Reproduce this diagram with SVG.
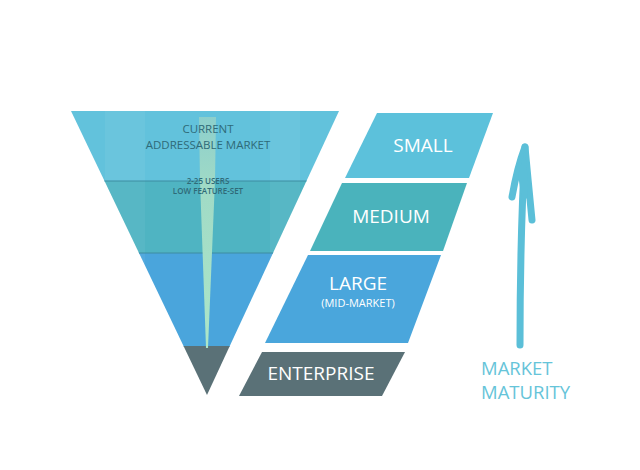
<svg xmlns="http://www.w3.org/2000/svg" width="640" height="470" viewBox="0 0 640 470">
  <defs>
    <clipPath id="funnelClip">
      <polygon points="71,111 339,111 207,395"/>
    </clipPath>
    <linearGradient id="beamGrad" x1="0" y1="0" x2="0" y2="1">
      <stop offset="0" stop-color="#8ccfcc"/>
      <stop offset="0.3" stop-color="#a0dac6"/>
      <stop offset="1" stop-color="#ace6c8"/>
    </linearGradient>
    <style>
      .seg { font-family: "Open Sans", "Noto Sans", "DejaVu Sans", sans-serif; fill: #ffffff; text-anchor: middle; }
      .big { font-size: 19px; }
      .sub { font-size: 11px; }
      .inner { font-family: "Open Sans", "Noto Sans", "DejaVu Sans", sans-serif; fill: #2f6a78; text-anchor: middle; }
      .band-line { stroke: #3f8fa3; stroke-width: 1.5; opacity: 0.7; }
      .maturity { font-family: "Open Sans", "Noto Sans", "DejaVu Sans", sans-serif; font-size: 18.5px; fill: #66c4d9; }
      .arrow { fill: none; stroke: #5bbfd8; stroke-width: 7; stroke-linecap: round; stroke-linejoin: round; }
    </style>
  </defs>
  <rect width="640" height="470" fill="#ffffff"/>

  <g id="funnel">
    <g clip-path="url(#funnelClip)">
      <rect x="60" y="105" width="290" height="77" fill="#62c2dc"/>
      <rect x="60" y="181" width="290" height="73" fill="#4fb4c2"/>
      <rect x="60" y="253" width="290" height="94" fill="#4aa5dc"/>
      <rect x="60" y="346" width="290" height="55" fill="#5a7177"/>
      <rect x="105" y="105" width="40" height="242" fill="#ffffff" opacity="0.05"/>
      <rect x="270" y="105" width="30" height="242" fill="#ffffff" opacity="0.05"/>
      <line class="band-line" x1="60" y1="181" x2="350" y2="181"/>
      <line class="band-line" x1="60" y1="253" x2="350" y2="253"/>
      <polygon points="199,117 216,117 215,180 208,348 206,348 200,180" fill="url(#beamGrad)"/>
    </g>
    <text class="inner" x="208" y="133" font-size="11.5">CURRENT</text>
    <text class="inner" x="208" y="149" font-size="11.5">ADDRESSABLE MARKET</text>
    <text class="inner" x="208" y="184" font-size="8" font-weight="600">2-25 USERS</text>
    <text class="inner" x="208" y="194" font-size="8" font-weight="600">LOW FEATURE-SET</text>
  </g>

  <g id="small">
    <polygon points="377,113 493,113 469,178 345,178" fill="#5cc1db"/>
    <text class="seg big" x="423" y="152">SMALL</text>
  </g>

  <g id="medium">
    <polygon points="342,183 467,183 443,251 310,251" fill="#4ab3bc"/>
    <text class="seg big" x="391" y="223">MEDIUM</text>
  </g>

  <g id="large">
    <polygon points="308,255 441,255 408,343 265,343" fill="#4aa6dc"/>
    <text class="seg big" x="358" y="290">LARGE</text>
    <text class="seg sub" x="358" y="307">(MID-MARKET)</text>
  </g>

  <g id="enterprise">
    <polygon points="262,352 405,352 382,396 239,396" fill="#5a7177"/>
    <text class="seg big" x="321" y="380">ENTERPRISE</text>
  </g>

  <g id="connectors">
    <path class="arrow" d="M520,345 C520,300 521,220 525,147"/>
    <path class="arrow" d="M512,197 C515,180 520,160 525,147 C527,170 530,198 532,220"/>
    <polygon points="525,150 518,175 522,200 528,198 527,170" fill="#5bbfd8"/>
  </g>

  <g id="maturity-label">
    <text class="maturity" x="481" y="375">MARKET</text>
    <text class="maturity" x="481" y="399">MATURITY</text>
  </g>
</svg>
